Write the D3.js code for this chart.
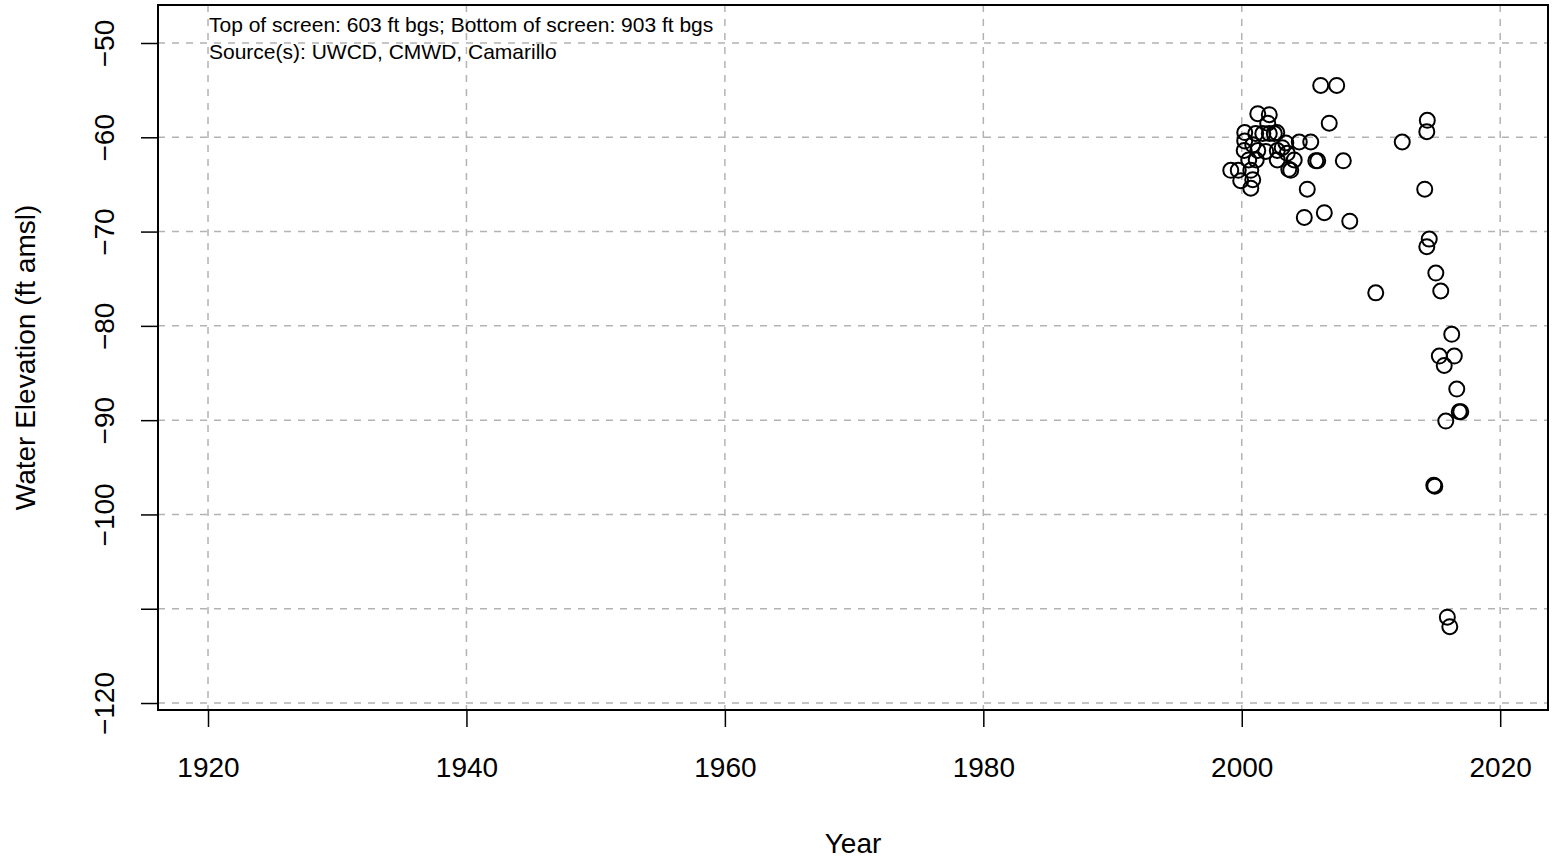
<!DOCTYPE html>
<html><head><meta charset="utf-8">
<script src="https://cdn.jsdelivr.net/npm/d3@7"></script>
<style>body{margin:0;background:#fff;} svg{display:block;} text{font-family:"Liberation Sans",Arial,sans-serif;}</style>
</head><body>
<svg id="chart" width="1562" height="859"></svg>
<script>
const years = [1999.15,1999.73,1999.92,2000.23,2000.23,2000.19,2000.54,2000.70,2000.85,2000.70,2000.85,2001.12,2001.08,2001.24,2001.24,2001.63,2001.86,2002.13,2002.13,2002.01,2002.52,2002.71,2002.75,2002.75,2003.13,2003.41,2003.52,2003.64,2003.79,2004.06,2004.45,2005.34,2005.07,2004.84,2005.73,2005.88,2006.11,2007.35,2006.77,2006.39,2007.86,2008.36,2010.37,2012.42,2014.36,2014.32,2014.16,2014.51,2014.32,2015.02,2015.40,2016.25,2015.29,2016.45,2015.67,2016.64,2016.83,2016.95,2015.79,2014.86,2014.94,2015.91,2016.10];
const elevations = [-63.5,-63.5,-64.6,-59.5,-60.4,-61.4,-62.4,-63.5,-64.5,-65.4,-60.8,-62.4,-59.6,-57.5,-61.4,-59.6,-61.5,-59.6,-57.6,-58.5,-59.6,-59.5,-61.4,-62.4,-61.1,-60.6,-61.7,-63.4,-63.5,-62.4,-60.5,-60.5,-65.5,-68.5,-62.5,-62.5,-54.5,-54.5,-58.5,-68.0,-62.5,-68.9,-76.5,-60.5,-58.2,-59.4,-65.5,-70.8,-71.6,-74.4,-76.3,-80.9,-83.2,-83.2,-84.2,-86.7,-89.1,-89.1,-90.1,-96.9,-97.0,-110.9,-111.9];
const xTicks = [1920,1940,1960,1980,2000,2020];
const yTicks = [-50,-60,-70,-80,-90,-100,-110,-120];
const yTickLabels = ["\u221250","\u221260","\u221270","\u221280","\u221290","\u2212100","","\u2212120"];
const xTitle = "Year";
const yTitle = "Water Elevation (ft amsl)";
const notes = ["Top of screen: 603 ft bgs; Bottom of screen: 903 ft bgs","Source(s): UWCD, CMWD, Camarillo"];

const L=158,R=1548,T=5,B=710;
const x = d3.scaleLinear().domain([1916.13,2023.7]).range([L,R]);
const y = d3.scaleLinear().domain([-120.74,-45.97]).range([B,T]);
const svg = d3.select("#chart");
const FF = "Liberation Sans, Arial, sans-serif";

// grid
const grid = svg.append("g").attr("stroke","#b3b3b3").attr("stroke-width",1.5).attr("stroke-dasharray","7,7");
grid.selectAll("line.v").data(xTicks).join("line").attr("class","v")
  .attr("x1",d=>x(d)).attr("x2",d=>x(d)).attr("y1",T).attr("y2",B);
grid.selectAll("line.h").data(yTicks).join("line").attr("class","h")
  .attr("x1",L).attr("x2",R).attr("y1",d=>y(d)).attr("y2",d=>y(d));

// axes
const xAxis = d3.axisBottom(x).tickValues(xTicks).tickFormat(d3.format("d")).tickSize(17).tickPadding(30);
const gx = svg.append("g").attr("transform",`translate(0,${B})`).call(xAxis);
gx.select(".domain").attr("d",`M${x(1920)},0H${x(2020)}`).attr("stroke-width",1.5);
gx.selectAll(".tick line").attr("stroke-width",1.5);
gx.selectAll("text").attr("font-size",28).attr("fill","#000").style("font-family",FF);

const yAxis = d3.axisLeft(y).tickValues(yTicks).tickFormat((d,i)=>yTickLabels[i]).tickSize(17);
const gy = svg.append("g").attr("transform",`translate(${L},0)`).call(yAxis);
gy.select(".domain").attr("d",`M0,${y(-50)}V${y(-120)}`).attr("stroke-width",1.5);
gy.selectAll(".tick line").attr("stroke-width",1.5);
gy.selectAll(".tick text").attr("font-size",28).attr("fill","#000").style("font-family",FF)
  .attr("transform","rotate(-90)").attr("x",0).attr("y",-44).attr("dy","0em").attr("text-anchor","middle");

// box
svg.append("rect").attr("x",L).attr("y",T).attr("width",R-L).attr("height",B-T)
  .attr("fill","none").attr("stroke","#000").attr("stroke-width",2);

// points
svg.append("g").selectAll("circle").data(years.map((d,i)=>[d,elevations[i]])).join("circle")
  .attr("cx",d=>x(d[0])).attr("cy",d=>y(d[1])).attr("r",7.5)
  .attr("fill","none").attr("stroke","#000").attr("stroke-width",2);

// notes
svg.append("g").selectAll("text").data(notes).join("text")
  .attr("x",209).attr("y",(d,i)=>32+i*27).attr("font-size",21).text(d=>d);

// titles
svg.append("text").attr("x",(L+R)/2).attr("y",853).attr("text-anchor","middle").attr("font-size",28).text(xTitle);
svg.append("text").attr("transform",`translate(35,${(T+B)/2}) rotate(-90)`).attr("text-anchor","middle").attr("font-size",28).text(yTitle);
</script>
</body></html>
